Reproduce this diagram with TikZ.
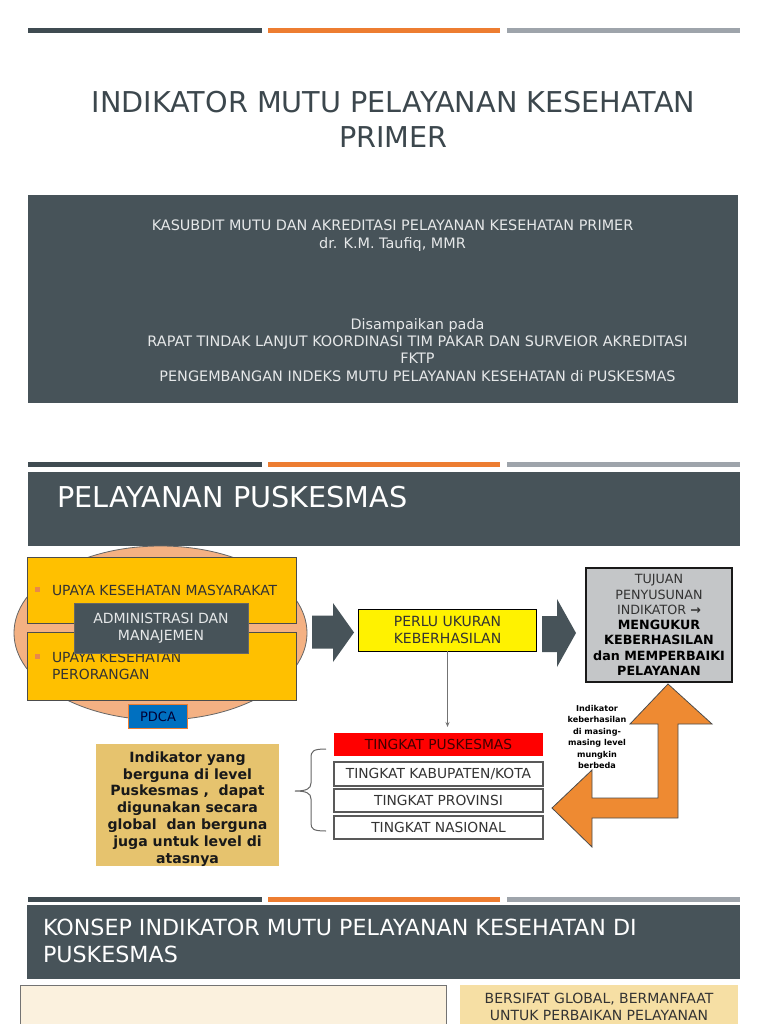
\documentclass[tikz,border=0pt]{standalone}
\usepackage{fontspec}
\setmainfont{DejaVu Sans}
\usetikzlibrary{shapes.geometric,arrows.meta}
\definecolor{slate}{HTML}{475359}
\definecolor{bardark}{HTML}{3F4B51}
\definecolor{barorange}{HTML}{ED7D31}
\definecolor{bargray}{HTML}{9EA4AB}
\definecolor{titlec}{HTML}{3C474D}
\definecolor{lighttext}{HTML}{E6E8E9}
\definecolor{peach}{HTML}{F4B183}
\definecolor{gold}{HTML}{FFC000}
\definecolor{pdcablue}{HTML}{0070C0}
\definecolor{tujgray}{HTML}{C4C6C8}
\definecolor{tanbox}{HTML}{E6C36E}
\definecolor{creambox}{HTML}{FBF1DE}
\definecolor{lighttan}{HTML}{F6DFA4}
\definecolor{arroworange}{HTML}{EE8A32}
\definecolor{bulletc}{HTML}{E8884A}
\definecolor{darktext}{HTML}{333333}
\newcommand\fsz[2]{\fontsize{#1}{#2}\selectfont}
\tikzset{
  x=1pt,y=-1pt,
  plain/.style={inner sep=0pt,outer sep=0pt},
  rectbox/.style={plain,rectangle,anchor=center},
  lineL/.style={plain,anchor=base west},
  lineC/.style={plain,anchor=base},
  goldbox/.style={rectbox,fill=gold,draw=black!70,line width=0.8pt,minimum width=269pt},
  tingbox/.style={rectbox,fill=white,draw=black!65,line width=1.3pt,minimum width=209pt,minimum height=23pt,text=darktext,font=\fsz{13.8}{16}},
  blockarrow/.style={fill=slate},
}
\begin{document}
\begin{tikzpicture}
\useasboundingbox[fill=white] (0,0) rectangle (768,1024);
% decorative bars
\foreach \yy in {28.5,461.5,896.5}{
  \fill[bardark] (28,\yy) rectangle (262,\yy+5);
  \fill[barorange] (268,\yy) rectangle (500,\yy+5);
  \fill[bargray] (507,\yy) rectangle (740,\yy+5);
}
% ---------- slide 1 ----------
\node[lineC,text=titlec,font=\fsz{28.7}{34}] (t1) at (393.5,113) {INDIKATOR MUTU PELAYANAN KESEHATAN};
\node[lineC,text=titlec,font=\fsz{28.7}{34}] (t2) at (393.5,148) {PRIMER};
\node[rectbox,fill=slate,minimum width=710pt,minimum height=208pt] (info) at (383,299) {};
\begin{scope}[every node/.style={lineC,text=lighttext,font=\fsz{14.4}{17}}]
\node (s1) at (392.5,231) {KASUBDIT MUTU DAN AKREDITASI PELAYANAN KESEHATAN PRIMER};
\node (s2) at (392.5,248) {dr. K.M. Taufiq, MMR};
\node (s3) at (417.5,329) {Disampaikan pada};
\node (s4) at (417.5,346) {RAPAT TINDAK LANJUT KOORDINASI TIM PAKAR DAN SURVEIOR AKREDITASI};
\node (s5) at (417.5,363) {FKTP};
\node (s6) at (417.5,381) {PENGEMBANGAN INDEKS MUTU PELAYANAN KESEHATAN di PUSKESMAS};
\end{scope}
% ---------- slide 2 ----------
\node[rectbox,fill=slate,minimum width=712pt,minimum height=74pt] (hdr2) at (384,509) {};
\node[lineL,text=white,font=\fsz{28.7}{34}] (hdr2t) at (57,507) {PELAYANAN PUSKESMAS};
\node[ellipse,plain,fill=peach,draw=black!60,line width=0.8pt,minimum width=293pt,minimum height=174pt] (cycle) at (160.5,633) {};
\node[goldbox,minimum height=66pt] (ukm) at (161.5,590) {};
\node[goldbox,minimum height=68pt] (ukp) at (161.5,666) {};
\fill[bulletc] (35,587) rectangle (40,592);
\fill[bulletc] (35,654) rectangle (40,659);
\begin{scope}[every node/.style={lineL,text=black!80,font=\fsz{13.9}{17}}]
\node (ukmt) at (52,595) {UPAYA KESEHATAN MASYARAKAT};
\node (ukpt1) at (52,662) {UPAYA KESEHATAN};
\node (ukpt2) at (52,679) {PERORANGAN};
\end{scope}
\node[rectbox,fill=slate,draw=black!60,line width=0.6pt,minimum width=174pt,minimum height=50pt,text=lighttext,font=\fsz{14}{17},align=center] (adm) at (161,628) {ADMINISTRASI DAN\\MANAJEMEN};
\node[rectbox,fill=pdcablue,draw=barorange,line width=1.5pt,minimum width=59pt,minimum height=24pt,text=black!80!blue,font=\fsz{13}{15}] (pdca) at (158,716.5) {PDCA};
% block arrows
\fill[blockarrow] (312,615.5) -- (333,615.5) -- (333,603) -- (354,632.5) -- (333,662) -- (333,648.5) -- (312,648.5) -- cycle;
\node[rectbox,fill=yellow,draw=black,line width=1pt,minimum width=178pt,minimum height=42pt,text=darktext,font=\fsz{14}{17},align=center] (perlu) at (447.5,630) {PERLU UKURAN\\KEBERHASILAN};
\fill[blockarrow] (542,616) -- (557,616) -- (557,599) -- (576,633) -- (557,667) -- (557,652) -- (542,652) -- cycle;
\node[rectbox,fill=tujgray,draw=black!90,line width=2pt,minimum width=146pt,minimum height=114pt,text=darktext,font=\fsz{12.7}{15.3},align=center] (tuj) at (659,625) {TUJUAN\\PENYUSUNAN\\INDIKATOR \textbf{→}\\\textcolor{black}{\textbf{MENGUKUR}}\\\textcolor{black}{\textbf{KEBERHASILAN}}\\\textcolor{black}{\textbf{dan MEMPERBAIKI}}\\\textcolor{black}{\textbf{PELAYANAN}}};
% levels
\node[tingbox,fill=red,draw=none,text=black!75!red] (pusk) at (438.5,744.5) {TINGKAT PUSKESMAS};
\node[tingbox,minimum height=24pt] (kab) at (438.5,774) {TINGKAT KABUPATEN/KOTA};
\node[tingbox] (prov) at (438.5,800.5) {TINGKAT PROVINSI};
\node[tingbox] (nas) at (438.5,827.5) {TINGKAT NASIONAL};
\draw[black!55,line width=0.8pt,-{Stealth[length=5pt,width=4pt]}] (perlu.south) -- ([yshift=6pt]perlu.south |- pusk.north);
% brace
\draw[black!60,line width=1pt] (326,749) .. controls (313,749) and (311,751) .. (311,758) -- (311,783) .. controls (311,789) and (306,791) .. (295,791) .. controls (306,791) and (311,793) .. (311,799) -- (311,823) .. controls (311,829) and (313,831) .. (326,831);
% orange double arrow
\draw[fill=arroworange,draw=black!70,line width=0.8pt,line join=miter] (668,684) -- (712,724) -- (678,724) -- (678,818) -- (592,818) -- (592,847) -- (552,808) -- (592,770) -- (592,798) -- (658,798) -- (658,724) -- (630,724) -- cycle;
\node[plain,align=center,font=\fsz{8.1}{11.5}\bfseries,text=black] (note) at (597,737) {Indikator\\keberhasilan\\di masing-\\masing level\\mungkin\\berbeda};
% tan box
\node[rectbox,fill=tanbox,minimum width=183pt,minimum height=122pt] (tan) at (187.5,805) {};
\begin{scope}
\clip (96,744) rectangle (279,866);
\node[plain,align=center,font=\fsz{14.1}{16.9}\bfseries,text=black!90] (tant) at (187.5,809) {Indikator yang\\berguna di level\\Puskesmas ,~~dapat\\digunakan secara\\global~~dan berguna\\juga untuk level di\\atasnya};
\end{scope}
% ---------- slide 3 ----------
\node[rectbox,fill=slate,minimum width=713pt,minimum height=74pt] (hdr3) at (383.5,942) {};
\node[lineL,text=white,font=\fsz{22.2}{27}] (hdr3a) at (43,935) {KONSEP INDIKATOR MUTU PELAYANAN KESEHATAN DI};
\node[lineL,text=white,font=\fsz{22.2}{27}] (hdr3b) at (43,962) {PUSKESMAS};
\node[rectbox,fill=creambox,draw=black!55,line width=0.8pt,minimum width=426pt,minimum height=60pt] (cream) at (233,1015) {};
\node[rectbox,fill=lighttan,minimum width=278pt,minimum height=60pt] (glob) at (599,1015) {};
\node[lineC,text=darktext,font=\fsz{14}{17}] (g1) at (599,1003) {BERSIFAT GLOBAL, BERMANFAAT};
\node[lineC,text=darktext,font=\fsz{14}{17}] (g2) at (599,1020) {UNTUK PERBAIKAN PELAYANAN};
\end{tikzpicture}
\end{document}
